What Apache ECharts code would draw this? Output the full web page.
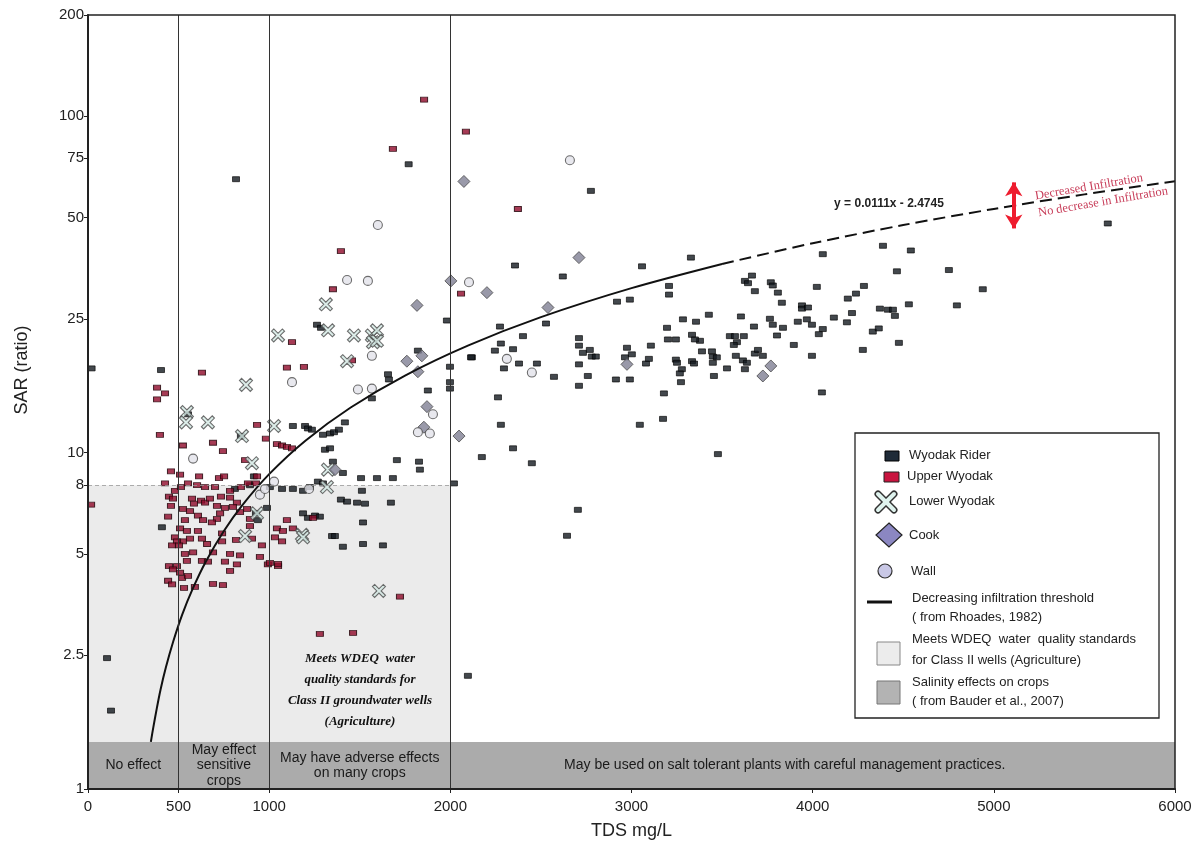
<!DOCTYPE html>
<html>
<head>
<meta charset="utf-8">
<title>SAR vs TDS</title>
<script src="https://cdn.jsdelivr.net/npm/echarts@6/dist/echarts.min.js"></script>
<style>
  html, body { margin: 0; padding: 0; background: #fff; }
  #myChart { width: 1199px; height: 845px; }
</style>
</head>
<body>
<div id="myChart"></div>
<script>
// axis ticks
const tdsTicks = [0, 500, 1000, 2000, 3000, 4000, 5000, 6000];
const sarTicks = [1, 2.5, 5, 8, 10, 25, 50, 75, 100, 200];

// crop salinity zones (TDS from, TDS to, text)
const cropZones = [
  [0, 500, 'No effect'],
  [500, 1000, 'May effect\nsensitive\ncrops'],
  [1000, 2000, 'May have adverse effects\non many crops'],
  [2000, 6000, 'May be used on salt tolerant plants with careful management practices.']
];
const zoneTopSar = 1.38;
const wdeqMaxTds = 2000;
const wdeqMaxSar = 8;
const zoneLines = [500, 1000, 2000];

// [TDS mg/L, SAR]
const wyodakRider = [
  [20, 17.8], [817, 65], [1770, 72], [2776, 60], [2357, 36], [2621, 33.4], [3058, 35.8], [3328, 38],
  [2274, 23.7], [2528, 24.2], [2920, 28.1], [2991, 28.5], [3207, 31.3], [3207, 29.5], [3284, 24.9],
  [3356, 24.5], [3427, 25.7], [3196, 23.5], [3665, 33.6], [3626, 32.4], [3643, 31.9], [3681, 30.2],
  [3769, 32.1], [3780, 31.4], [3808, 29.9], [3830, 27.9], [3941, 27.4], [3941, 26.8], [3974, 27.0],
  [4023, 31.1], [3604, 25.4], [3676, 23.7], [3764, 25.0], [3780, 24.0], [3918, 24.5], [3968, 24.9],
  [3996, 24.0], [3836, 23.5], [4056, 38.9], [4388, 41.2], [4542, 39.9], [4465, 34.6], [4752, 34.9],
  [4939, 30.6], [4796, 27.4], [5629, 48], [3803, 22.3], [4056, 23.3], [4034, 22.5], [3896, 20.9],
  [3996, 19.4], [4051, 15.1], [4117, 25.2], [4189, 24.4], [4217, 26.0], [4194, 28.7], [4239, 29.7],
  [4283, 31.3], [4371, 26.8], [4415, 26.6], [4443, 26.6], [4454, 25.5], [4531, 27.6], [4332, 22.9],
  [4365, 23.4], [4476, 21.2], [4277, 20.2], [3378, 21.5], [3389, 20.0], [3444, 20.0], [3449, 19.3],
  [3471, 19.2], [3449, 18.5], [3455, 16.9], [3527, 17.8], [3543, 22.2], [3571, 22.2], [3582, 21.3],
  [3565, 20.9], [3620, 22.2], [3576, 19.4], [3615, 18.8], [3637, 18.5], [3626, 17.7], [3681, 19.7],
  [3698, 20.2], [3725, 19.4], [2401, 22.2], [2279, 21.1], [2246, 20.1], [2346, 20.3], [2119, 19.2],
  [2296, 17.8], [2379, 18.4], [2478, 18.4], [2572, 16.8], [1998, 18.0], [1998, 16.2], [1998, 15.5],
  [2710, 21.9], [2710, 20.8], [2732, 19.8], [2770, 20.2], [2781, 19.3], [2803, 19.3], [2710, 18.3],
  [2759, 16.9], [2710, 15.8], [2914, 16.5], [2991, 16.5], [2975, 20.5], [3002, 19.6], [2964, 19.2],
  [3080, 18.4], [3096, 19.0], [3107, 20.8], [3201, 21.7], [3245, 21.7], [3245, 18.9], [3251, 18.5],
  [3278, 17.7], [3267, 17.2], [3273, 16.2], [3334, 22.4], [3350, 21.7], [3334, 18.7], [3345, 18.4],
  [3179, 15.0], [3174, 12.6], [3046, 12.1], [3477, 9.9], [2263, 14.6], [2279, 12.1], [2346, 10.3],
  [2174, 9.7], [2450, 9.3], [2020, 8.1], [2704, 6.76], [2644, 5.66], [1981, 24.7], [2114, 19.2],
  [2097, 2.17], [1264, 24.0], [1286, 23.5], [1821, 20.1], [1656, 17.1], [1661, 16.5], [1567, 14.5],
  [1876, 15.3], [552, 13.0], [844, 11.2], [1131, 12.0], [1198, 12.0], [1214, 11.8], [1236, 11.7],
  [1297, 11.3], [1336, 11.4], [1358, 11.5], [1385, 11.7], [1418, 12.3], [1308, 10.2], [1336, 10.3],
  [1352, 9.4], [1407, 8.7], [1507, 8.4], [1595, 8.4], [1683, 8.4], [1827, 9.4], [1832, 8.9],
  [1705, 9.5], [811, 7.8], [894, 8.0], [1004, 7.9], [1071, 7.8], [1131, 7.8], [1187, 7.7], [1225, 7.9],
  [1269, 8.2], [1297, 8.1], [1396, 7.25], [1430, 7.15], [1485, 7.1], [1529, 7.05], [1672, 7.1],
  [1512, 7.7], [1518, 6.2], [1187, 6.6], [1214, 6.4], [1253, 6.5], [1280, 6.45], [1347, 5.65],
  [1363, 5.65], [1407, 5.25], [1518, 5.35], [1628, 5.3], [938, 6.3], [927, 6.6], [988, 6.85],
  [916, 8.5], [403, 17.6], [408, 6.0], [105, 2.45], [127, 1.71]
];

const upperWyodak = [
  [1855, 112], [2086, 90], [1683, 80], [1396, 39.7], [1352, 30.6], [2059, 29.7], [2373, 53],
  [1126, 21.3], [1457, 18.8], [1098, 17.9], [1192, 18.0], [629, 17.3], [381, 15.6], [425, 15.0],
  [381, 14.4], [397, 11.3], [933, 12.1], [982, 11.0], [1043, 10.6], [1071, 10.5], [1098, 10.4],
  [1126, 10.3], [524, 10.5], [690, 10.7], [745, 10.1], [867, 9.5], [933, 8.5], [458, 8.8], [508, 8.6],
  [613, 8.5], [723, 8.4], [751, 8.5], [425, 8.1], [480, 7.7], [447, 7.4], [513, 7.9], [552, 8.1],
  [602, 8.0], [646, 7.9], [701, 7.9], [784, 7.7], [844, 7.9], [883, 8.1], [927, 8.1], [1242, 6.4],
  [1098, 6.3], [1043, 5.95], [1076, 5.85], [1131, 5.95], [1032, 5.6], [1071, 5.45], [960, 5.3],
  [949, 4.9], [993, 4.65], [1049, 4.6], [894, 6.05], [905, 5.55], [817, 5.5], [839, 4.95], [734, 7.4],
  [784, 7.35], [822, 7.1], [712, 6.95], [756, 6.85], [800, 6.9], [839, 6.65], [878, 6.8], [894, 6.35],
  [624, 7.2], [646, 7.1], [673, 7.3], [729, 6.6], [712, 6.35], [684, 6.2], [574, 7.3], [585, 7.05],
  [563, 6.7], [607, 6.5], [635, 6.3], [469, 7.3], [458, 6.95], [442, 6.45], [524, 6.8], [535, 6.3],
  [508, 5.95], [546, 5.85], [563, 5.55], [524, 5.45], [480, 5.6], [491, 5.45], [464, 5.3], [502, 5.3],
  [607, 5.85], [629, 5.55], [657, 5.35], [740, 5.75], [740, 5.45], [580, 5.05], [535, 5.0], [546, 4.77],
  [690, 5.05], [629, 4.77], [662, 4.74], [756, 4.74], [784, 5.0], [447, 4.6], [491, 4.6], [508, 4.4],
  [469, 4.5], [17, 7.0], [442, 4.16], [464, 4.06], [519, 4.24], [530, 3.96], [552, 4.3], [590, 3.99],
  [784, 4.45], [822, 4.65], [690, 4.07], [745, 4.04], [1004, 4.7], [1049, 4.67], [1722, 3.73],
  [1280, 2.89], [1463, 2.91]
];

const lowerWyodak = [
  [1313, 27.6], [1325, 23.1], [1049, 22.3], [1468, 22.3], [1567, 22.3], [1595, 23.1], [1573, 21.3],
  [1595, 21.5], [1430, 18.7], [872, 15.9], [546, 13.2], [541, 12.3], [662, 12.3], [850, 11.2],
  [1027, 12.0], [905, 9.3], [1325, 8.9], [1319, 7.9], [1181, 5.7], [1187, 5.6], [933, 6.6],
  [867, 5.65], [1606, 3.88]
];

const cook = [
  [2075, 64], [2710, 38], [2202, 29.9], [2539, 27], [2003, 32.4], [1816, 27.4], [1760, 18.7],
  [1843, 19.4], [1821, 17.4], [2048, 11.2], [2975, 18.3], [3769, 18.1], [3725, 16.9], [1363, 8.9],
  [1871, 13.7], [1854, 11.9]
];

const wall = [
  [2660, 74], [1600, 47.5], [1430, 32.6], [1545, 32.4], [2103, 32.1], [1567, 19.4], [1490, 15.4],
  [1567, 15.5], [1126, 16.2], [580, 9.6], [2312, 19.0], [2450, 17.3], [949, 7.5], [977, 7.8],
  [1027, 8.2], [1220, 7.8], [1904, 13.0], [1821, 11.5], [1887, 11.4]
];

// decreasing infiltration threshold, y = 0.0111x - 2.4745
const thresholdSolid = [
  [347, 1.38], [360, 1.52], [380, 1.74], [400, 1.97], [430, 2.30], [470, 2.74], [520, 3.30],
  [580, 3.96], [650, 4.74], [750, 5.85], [850, 6.96], [1000, 8.63], [1200, 10.85], [1450, 13.62],
  [1750, 16.95], [2100, 20.84], [2500, 25.28], [3000, 30.83], [3500, 36.38]
];
const thresholdDashed = [
  [3500, 36.38], [4000, 41.93], [4500, 47.48], [5000, 53.03], [5500, 58.58], [6000, 64.13]
];
const arrowTds = 5110;
const arrowSar = [46.4, 63.6];

const FONT = '"Liberation Sans", Arial, sans-serif';
const SERIF = '"Liberation Serif", "Times New Roman", serif';

let myChart = echarts.init(document.getElementById('myChart'));

let zoneAreas = [
  [{ xAxis: 0, yAxis: 1, itemStyle: { color: '#ebebeb' }, label: { show: false } },
   { xAxis: wdeqMaxTds, yAxis: wdeqMaxSar }]
];
cropZones.forEach(function (z, i) {
  zoneAreas.push([
    {
      name: z[2], xAxis: z[0], yAxis: 1,
      itemStyle: { color: '#ababab' },
      label: { offset: i === 3 ? [-28, 0] : [0, 0] }
    },
    { xAxis: z[1], yAxis: zoneTopSar }
  ]);
});

let scatterBase = {
  type: 'scatter',
  z: 3
};

let option = {
  animation: false,
  backgroundColor: '#fff',
  grid: {
    left: 88, right: 24, top: 15, bottom: 55,
    show: true, borderColor: '#222', borderWidth: 1.5, backgroundColor: 'transparent', z: 10
  },
  xAxis: {
    type: 'value', min: 0, max: 6000, z: 10,
    name: 'TDS mg/L', nameLocation: 'middle', nameGap: 33,
    nameTextStyle: { fontSize: 18, color: '#222', fontFamily: FONT },
    axisLine: { show: true, lineStyle: { color: '#222', width: 2 } },
    axisTick: { show: true, length: 4, customValues: tdsTicks, lineStyle: { color: '#222' } },
    axisLabel: {
      customValues: tdsTicks, fontSize: 15, color: '#222', margin: 10, fontFamily: FONT,
      formatter: function (v) { return String(v); }
    },
    splitLine: { show: false }
  },
  yAxis: {
    type: 'log', logBase: 10, min: 1, max: 200, z: 10,
    axisLine: { show: true, lineStyle: { color: '#222', width: 2 } },
    axisTick: { show: true, length: 4, customValues: sarTicks, lineStyle: { color: '#222' } },
    minorTick: { show: false },
    axisLabel: { customValues: sarTicks, fontSize: 15, color: '#222', margin: 4, fontFamily: FONT },
    splitLine: { show: false }
  },
  series: [
    {
      name: 'zones', type: 'line', data: [], z: 1, silent: true,
      markArea: {
        silent: true,
        label: {
          show: true, position: 'inside', formatter: '{b}',
          color: '#1a1a1a', fontSize: 14, lineHeight: 15.5, fontFamily: FONT
        },
        data: zoneAreas
      }
    },
    {
      name: 'refLines', type: 'line', data: [], z: 2, silent: true,
      markLine: {
        silent: true, symbol: 'none', label: { show: false },
        data: zoneLines.map(function (v) {
          return { xAxis: v, lineStyle: { color: '#333', width: 1, type: 'solid' } };
        }).concat([[
          { coord: [0, wdeqMaxSar], lineStyle: { color: '#999', width: 0.8, type: [4, 3] } },
          { coord: [wdeqMaxTds, wdeqMaxSar] }
        ]])
      }
    },
    Object.assign({}, scatterBase, {
      name: 'Wyodak Rider', data: wyodakRider, symbol: 'rect', symbolSize: [7, 5],
      itemStyle: { color: '#141a20', borderColor: '#000', borderWidth: 0.8 }
    }),
    Object.assign({}, scatterBase, {
      name: 'Upper Wyodak', data: upperWyodak, symbol: 'rect', symbolSize: [7, 5],
      itemStyle: { color: '#900a2a', borderColor: '#22050a', borderWidth: 0.9 }
    }),
    Object.assign({}, scatterBase, {
      name: 'Lower Wyodak', data: lowerWyodak,
      symbol: 'path://M2,0 L6,4 L10,0 L12,2 L8,6 L12,10 L10,12 L6,8 L2,12 L0,10 L4,6 L0,2 Z',
      symbolSize: 13,
      itemStyle: { color: '#d3e9e3', borderColor: '#4a4a4a', borderWidth: 1.1 }
    }),
    Object.assign({}, scatterBase, {
      name: 'Cook', data: cook, symbol: 'diamond', symbolSize: 12,
      itemStyle: { color: '#7f7f94', borderColor: '#4a4a4a', borderWidth: 1 }
    }),
    Object.assign({}, scatterBase, {
      name: 'Wall', data: wall, symbol: 'circle', symbolSize: 9,
      itemStyle: { color: '#e2e2ea', borderColor: '#4a4a4a', borderWidth: 1.1 }
    }),
    {
      name: 'threshold', type: 'line', data: thresholdSolid, z: 4,
      showSymbol: false, smooth: 0.3, silent: true,
      lineStyle: { color: '#111', width: 2 }
    },
    {
      name: 'threshold ext', type: 'line', data: thresholdDashed, z: 4,
      showSymbol: false, smooth: 0.3, silent: true,
      lineStyle: { color: '#111', width: 2, type: [12, 6] },
      markLine: {
        silent: true, symbol: ['arrow', 'arrow'], symbolSize: [13, 14],
        label: { show: false },
        lineStyle: { color: '#ee1c2e', width: 4, type: 'solid' },
        itemStyle: { color: '#ee1c2e' },
        data: [[{ coord: [arrowTds, arrowSar[0]] }, { coord: [arrowTds, arrowSar[1]] }]]
      }
    }
  ],
  graphic: [
    {
      type: 'text', x: 22, y: 370, rotation: Math.PI / 2, z: 100,
      style: { text: 'SAR (ratio)', font: '18px ' + FONT, fill: '#222', align: 'center', verticalAlign: 'middle', textAlign: 'center', textVerticalAlign: 'middle' }
    },
    {
      type: 'text', x: 360, y: 690, z: 100,
      style: {
        text: 'Meets WDEQ  water\nquality standards for\nClass II groundwater wells\n(Agriculture)',
        font: 'italic bold 13px ' + SERIF, fill: '#111', lineHeight: 21,
        align: 'center', verticalAlign: 'middle', textAlign: 'center', textVerticalAlign: 'middle'
      }
    },
    {
      type: 'text', x: 889, y: 204, z: 100,
      style: { text: 'y = 0.0111x - 2.4745', font: 'bold 12px ' + FONT, fill: '#222', align: 'center', verticalAlign: 'middle', textAlign: 'center', textVerticalAlign: 'middle' }
    },
    {
      type: 'text', x: 1089, y: 187, rotation: 0.17, z: 100,
      style: { text: 'Decreased Infiltration', font: '12.5px ' + SERIF, fill: '#c83e5a', align: 'center', verticalAlign: 'middle', textAlign: 'center', textVerticalAlign: 'middle' }
    },
    {
      type: 'text', x: 1103, y: 202, rotation: 0.17, z: 100,
      style: { text: 'No decrease in Infiltration', font: '12.5px ' + SERIF, fill: '#c83e5a', align: 'center', verticalAlign: 'middle', textAlign: 'center', textVerticalAlign: 'middle' }
    },
    {
      type: 'group', z: 100,
      children: [
        { type: 'rect', shape: { x: 855, y: 433, width: 304, height: 285 }, style: { fill: '#fff', stroke: '#222', lineWidth: 1.3 } },
        { type: 'rect', shape: { x: 885, y: 451, width: 14, height: 10 }, style: { fill: '#1f2b38', stroke: '#000', lineWidth: 1 } },
        { type: 'text', x: 909, y: 455, style: { text: 'Wyodak Rider', font: '13px ' + FONT, fill: '#222', verticalAlign: 'middle', textVerticalAlign: 'middle' } },
        { type: 'rect', shape: { x: 884, y: 472, width: 15, height: 10 }, style: { fill: '#c8143f', stroke: '#222', lineWidth: 1 } },
        { type: 'text', x: 907, y: 476, style: { text: 'Upper Wyodak', font: '13px ' + FONT, fill: '#222', verticalAlign: 'middle', textVerticalAlign: 'middle' } },
        { type: 'line', shape: { x1: 878, y1: 494, x2: 894, y2: 510 }, style: { stroke: '#333', lineWidth: 7, lineCap: 'round' } },
        { type: 'line', shape: { x1: 878, y1: 510, x2: 894, y2: 494 }, style: { stroke: '#333', lineWidth: 7, lineCap: 'round' } },
        { type: 'line', shape: { x1: 878, y1: 494, x2: 894, y2: 510 }, style: { stroke: '#dff3ee', lineWidth: 4, lineCap: 'round' } },
        { type: 'line', shape: { x1: 878, y1: 510, x2: 894, y2: 494 }, style: { stroke: '#dff3ee', lineWidth: 4, lineCap: 'round' } },
        { type: 'text', x: 909, y: 501, style: { text: 'Lower Wyodak', font: '13px ' + FONT, fill: '#222', verticalAlign: 'middle', textVerticalAlign: 'middle' } },
        { type: 'polygon', shape: { points: [[889, 523], [902, 535], [889, 547], [876, 535]] }, style: { fill: '#8b87c2', stroke: '#222', lineWidth: 1.2 } },
        { type: 'text', x: 909, y: 535, style: { text: 'Cook', font: '13px ' + FONT, fill: '#222', verticalAlign: 'middle', textVerticalAlign: 'middle' } },
        { type: 'circle', shape: { cx: 885, cy: 571, r: 7 }, style: { fill: '#c9c8e6', stroke: '#333', lineWidth: 1.2 } },
        { type: 'text', x: 911, y: 571, style: { text: 'Wall', font: '13px ' + FONT, fill: '#222', verticalAlign: 'middle', textVerticalAlign: 'middle' } },
        { type: 'line', shape: { x1: 867, y1: 602, x2: 892, y2: 602 }, style: { stroke: '#111', lineWidth: 3 } },
        { type: 'text', x: 912, y: 608, style: { text: 'Decreasing infiltration threshold\n( from Rhoades, 1982)', font: '13px ' + FONT, fill: '#222', lineHeight: 19, verticalAlign: 'middle', textVerticalAlign: 'middle' } },
        { type: 'rect', shape: { x: 877, y: 642, width: 23, height: 23 }, style: { fill: '#ececec', stroke: '#888', lineWidth: 1 } },
        { type: 'text', x: 912, y: 650, style: { text: 'Meets WDEQ  water  quality standards\nfor Class II wells (Agriculture)', font: '13px ' + FONT, fill: '#222', lineHeight: 21, verticalAlign: 'middle', textVerticalAlign: 'middle' } },
        { type: 'rect', shape: { x: 877, y: 681, width: 23, height: 23 }, style: { fill: '#b3b3b3', stroke: '#777', lineWidth: 1 } },
        { type: 'text', x: 912, y: 692, style: { text: 'Salinity effects on crops\n( from Bauder et al., 2007)', font: '13px ' + FONT, fill: '#222', lineHeight: 19, verticalAlign: 'middle', textVerticalAlign: 'middle' } }
      ]
    }
  ]
};
myChart.setOption(option);
</script>
</body>
</html>
